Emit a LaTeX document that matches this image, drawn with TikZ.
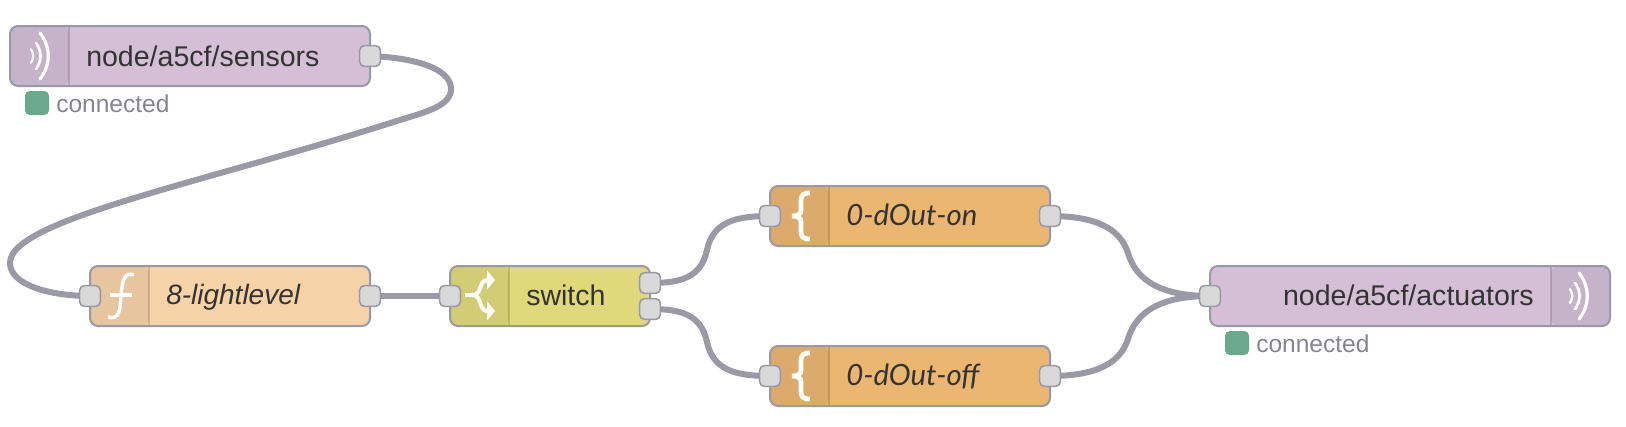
\documentclass[tikz,border=0pt]{standalone}
\usepackage{fontspec}
\setmainfont{Liberation Sans}
\newfontfamily\latofont{Lato}
\usetikzlibrary{arrows.meta,backgrounds}
\definecolor{wirecol}{HTML}{9A99A6}
\definecolor{linecol}{HTML}{9898A6}
\definecolor{portcol}{HTML}{D9D9D9}
\definecolor{mqttcol}{HTML}{D4BFD6}
\definecolor{funccol}{HTML}{F6D2A8}
\definecolor{switchcol}{HTML}{E0D97C}
\definecolor{tmplcol}{HTML}{EAB672}
\definecolor{dotcol}{HTML}{6AA98A}
\definecolor{statuscol}{HTML}{85858F}
\definecolor{labelcol}{HTML}{333333}
\tikzset{
  flowbox/.style={draw=linecol,line width=1.5pt,rounded corners=6pt,minimum height=45pt,inner sep=0pt},
  panelleft/.style={path picture={\fill[black,opacity=.06] (path picture bounding box.north west) rectangle ([xshift=44.25pt]path picture bounding box.south west);
    \draw[black,opacity=.15,line width=1pt] ([xshift=44.25pt]path picture bounding box.north west) -- ([xshift=44.25pt]path picture bounding box.south west);}},
  panelright/.style={path picture={\fill[black,opacity=.06] (path picture bounding box.north east) rectangle ([xshift=-44.25pt]path picture bounding box.south east);
    \draw[black,opacity=.15,line width=1pt] ([xshift=-44.25pt]path picture bounding box.north east) -- ([xshift=-44.25pt]path picture bounding box.south east);}},
  flowlabel/.style={anchor=base west,inner sep=0pt,text=labelcol,font=\fontsize{21.4}{24}\selectfont},
  port/.style={draw=linecol,fill=portcol,line width=1.2pt,rounded corners=3.5pt,minimum size=15.5pt,inner sep=0pt},
  wire/.style={draw=wirecol,line width=4.5pt},
  statusdot/.style={fill=dotcol,rounded corners=3.5pt,minimum size=18pt,inner sep=0pt},
  statustext/.style={text=statuscol,anchor=base west,inner sep=0pt,font=\fontsize{18.4}{20}\selectfont},
  iconline/.style={draw=white,line width=2.6pt,line cap=round},
}
\newcommand{\wifiicon}[2]{%
  \draw[iconline,line width=1.7pt] (#1+31,#2-7) .. controls (#1+34,#2-2) and (#1+34,#2+2) .. (#1+31,#2+7);
  \draw[iconline,line width=2pt] (#1+36,#2-13) .. controls (#1+42,#2-5) and (#1+42,#2+5) .. (#1+36,#2+13);
  \draw[iconline,line width=2.4pt] (#1+40,#2-23) .. controls (#1+51,#2-9) and (#1+51,#2+9) .. (#1+40,#2+23);
}
\newcommand{\braceicon}[2]{%
  \draw[iconline,line width=3.6pt,line cap=butt] (#1+810,#2-23) .. controls (#1+803,#2-23) and (#1+801,#2-21) .. (#1+801,#2-15) -- (#1+801,#2-6) .. controls (#1+801,#2-2) and (#1+798,#2) .. (#1+792,#2)
    .. controls (#1+798,#2) and (#1+801,#2+2) .. (#1+801,#2+6) -- (#1+801,#2+15) .. controls (#1+801,#2+21) and (#1+803,#2+23) .. (#1+810,#2+23);
}
\begin{document}
\begin{tikzpicture}[x=0.75pt,y=-0.75pt]
  \useasboundingbox (0,0) rectangle (1626,426);
  % flow nodes
  \node[flowbox,fill=mqttcol,panelleft,minimum width=270pt] (sensors) at (190,56) {};
  \node[flowbox,fill=funccol,panelleft,minimum width=210pt] (light) at (230,296) {};
  \node[flowbox,fill=switchcol,panelleft,minimum width=150pt] (switch) at (550,296) {};
  \node[flowbox,fill=tmplcol,panelleft,minimum width=210pt] (dOutOn) at (910,216) {};
  \node[flowbox,fill=tmplcol,panelleft,minimum width=210pt] (dOutOff) at (910,376) {};
  \node[flowbox,fill=mqttcol,panelright,minimum width=300pt] (actuators) at (1410,296) {};
  % labels
  \node[flowlabel] (sensorsText) at (86,66) {node/a5cf/sensors};
  \node[flowlabel,font=\fontsize{21}{24}\itshape] (lightText) at (166,304.5) {8-lightlevel};
  \node[flowlabel] (switchText) at (526,305.5) {switch};
  \node[flowlabel,font=\fontsize{22}{24}\latofont\itshape] (onText) at (846,225) {0-dOut-on};
  \node[flowlabel,font=\fontsize{22}{24}\latofont\itshape] (offText) at (846,385) {0-dOut-off};
  \node[flowlabel,anchor=base east] (actuatorsText) at (1534,305) {node/a5cf/actuators};
  % ports
  \node[port] (sensorsOut) at (370,56) {};
  \node[port] (lightIn) at (90,296) {};
  \node[port] (lightOut) at (370,296) {};
  \node[port] (switchIn) at (450,296) {};
  \node[port] (switchOutA) at (650,283) {};
  \node[port] (switchOutB) at (650,309) {};
  \node[port] (onIn) at (770,216) {};
  \node[port] (onOut) at (1050,216) {};
  \node[port] (offIn) at (770,376) {};
  \node[port] (offOut) at (1050,376) {};
  \node[port] (actuatorsIn) at (1210,296) {};
  % status
  \node[statusdot] (sensorsDot) at (37,103) {};
  \node[statustext] (sensorsStatus) at (56,112) {connected};
  \node[statusdot] (actuatorsDot) at (1237,343) {};
  \node[statustext] (actuatorsStatus) at (1256,352) {connected};
  % icons
  \wifiicon{0}{56}
  \wifiicon{1539}{296}
  \braceicon{0}{216}
  \braceicon{0}{376}
  \draw[iconline,line width=2.6pt,line cap=butt] (134,275) .. controls (124,271) and (122,282) .. (121,296) .. controls (120,308) and (120,321) .. (108,317);
  \draw[iconline,line width=2.4pt,line cap=butt] (110,295) -- (132,295);
  \draw[iconline,line width=3.6pt,line cap=butt] (465,295) -- (475,295);
  \draw[iconline,line width=3pt,line cap=butt,-{Triangle[length=6pt,width=14pt,fill=white]}] (474,295) .. controls (482,293) and (479,280) .. (495,280);
  \draw[iconline,line width=3pt,line cap=butt,-{Triangle[length=6pt,width=14pt,fill=white]}] (474,295) .. controls (482,297) and (479,311) .. (495,311);
  % wires
  \begin{pgfonlayer}{background}
    \coordinate (turnRight) at (451,88);
    \coordinate (loopMid) at (400,120);
    \coordinate (turnLeft) at (10,263);
    \draw[wire] (sensorsOut.center) .. controls (420,58) and (450,70) .. (turnRight)
      .. controls (452,106) and (425,112) .. (loopMid)
      .. controls (200,184) and (10,220) .. (turnLeft)
      .. controls (10,285) and (50,296) .. (lightIn.center);
    \draw[wire] (lightOut.center) -- (switchIn.center);
    \coordinate (upMid) at (707,250);
    \coordinate (downMid) at (707,342);
    \coordinate (onMid) at (1128,253);
    \coordinate (offMid) at (1128,339);
    \draw[wire] (switchOutA.center) .. controls (680,283) and (701,278) .. (upMid) .. controls (713,222) and (735,216) .. (onIn.center);
    \draw[wire] (switchOutB.center) .. controls (680,309) and (701,314) .. (downMid) .. controls (713,370) and (735,376) .. (offIn.center);
    \draw[wire] (onOut.center) .. controls (1095,216) and (1120,228) .. (onMid) .. controls (1136,280) and (1160,296) .. (actuatorsIn.center);
    \draw[wire] (offOut.center) .. controls (1095,376) and (1120,364) .. (offMid) .. controls (1136,312) and (1160,296) .. (actuatorsIn.center);
  \end{pgfonlayer}
\end{tikzpicture}
\end{document}
